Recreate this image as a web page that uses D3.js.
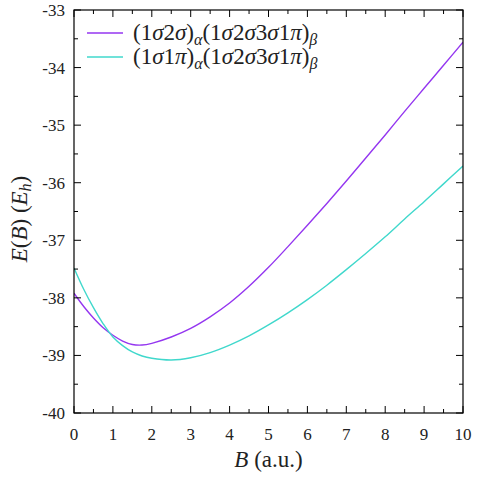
<!DOCTYPE html>
<html><head><meta charset="utf-8">
<script src="https://cdn.jsdelivr.net/npm/d3@7"></script>
<style>body{margin:0;background:#fff}</style>
</head><body>
<svg id="c" width="478" height="478"></svg>
<script>
const B = [0,0.25,0.5,0.75,1,1.25,1.5,1.75,2,2.5,3,3.5,4,4.5,5,5.5,6,6.5,7,7.5,8,8.5,9,9.5,10];
const E1 = [-37.92,-38.15,-38.35,-38.52,-38.65,-38.75,-38.81,-38.82,-38.79,-38.68,-38.53,-38.33,-38.09,-37.80,-37.47,-37.11,-36.74,-36.36,-35.97,-35.57,-35.17,-34.76,-34.36,-33.96,-33.56];
const E2 = [-37.48,-37.85,-38.17,-38.45,-38.68,-38.83,-38.94,-39.01,-39.05,-39.08,-39.04,-38.95,-38.82,-38.66,-38.47,-38.26,-38.03,-37.78,-37.51,-37.23,-36.94,-36.63,-36.33,-36.02,-35.71];
const xTicks = [0,1,2,3,4,5,6,7,8,9,10];
const yTicks = [-40,-39,-38,-37,-36,-35,-34,-33];
const colors = ["#9436f0","#40d8cc"];

const svg = d3.select("#c");
const L=74,R=463,T=10,Bt=413;
const x = d3.scaleLinear().domain([0,10]).range([L,R]);
const y = d3.scaleLinear().domain([-40,-33]).range([Bt,T]);
const F = "Liberation Serif, DejaVu Serif, serif";

const line = d3.line().x((d,i)=>x(B[i])).y(d=>y(d)).curve(d3.curveCatmullRom.alpha(0.5));
svg.append("clipPath").attr("id","cp").append("rect").attr("x",L).attr("y",T).attr("width",R-L).attr("height",Bt-T);
[E1,E2].forEach((s,k)=>{
  svg.append("path").attr("d",line(s)).attr("fill","none").attr("stroke",colors[k]).attr("stroke-width",1.4).attr("clip-path","url(#cp)");
});

const minorX = d3.range(0.5,10,1), minorY = d3.range(-39.5,-33,1);
const g = svg.append("g").attr("stroke","#000").attr("stroke-width",1);
xTicks.forEach(v=>{ g.append("line").attr("x1",x(v)).attr("x2",x(v)).attr("y1",Bt).attr("y2",Bt-7);
  g.append("line").attr("x1",x(v)).attr("x2",x(v)).attr("y1",T).attr("y2",T+7);});
minorX.forEach(v=>{ g.append("line").attr("x1",x(v)).attr("x2",x(v)).attr("y1",Bt).attr("y2",Bt-4);
  g.append("line").attr("x1",x(v)).attr("x2",x(v)).attr("y1",T).attr("y2",T+4);});
yTicks.forEach(v=>{ g.append("line").attr("y1",y(v)).attr("y2",y(v)).attr("x1",L).attr("x2",L+7);
  g.append("line").attr("y1",y(v)).attr("y2",y(v)).attr("x1",R).attr("x2",R-7);});
minorY.forEach(v=>{ g.append("line").attr("y1",y(v)).attr("y2",y(v)).attr("x1",L).attr("x2",L+4);
  g.append("line").attr("y1",y(v)).attr("y2",y(v)).attr("x1",R).attr("x2",R-4);});
svg.append("rect").attr("x",L).attr("y",T).attr("width",R-L).attr("height",Bt-T).attr("fill","none").attr("stroke","#000").attr("stroke-width",1.2);

xTicks.forEach(v=>svg.append("text").attr("x",x(v)).attr("y",Bt+27).attr("text-anchor","middle")
  .style("font-family",F).style("font-size","17px").attr("fill","#222").text(v));
yTicks.forEach(v=>svg.append("text").attr("x",L-9).attr("y",y(v)+6).attr("text-anchor","end")
  .style("font-family",F).style("font-size","17px").attr("fill","#222").text(v));

const xt = svg.append("text").attr("x",(L+R)/2).attr("y",467).attr("text-anchor","middle")
  .style("font-family",F).style("font-size","23px").attr("fill","#222");
xt.append("tspan").style("font-style","italic").text("B");
xt.append("tspan").text(" (a.u.)");
const yt = svg.append("text").attr("transform",`translate(27,219) rotate(-90)`).attr("text-anchor","middle")
  .style("font-family",F).style("font-size","23px").attr("fill","#222");
yt.append("tspan").style("font-style","italic").text("E");
yt.append("tspan").text("(");
yt.append("tspan").style("font-style","italic").text("B");
yt.append("tspan").text(") (");
yt.append("tspan").style("font-style","italic").text("E");
yt.append("tspan").style("font-style","italic").style("font-size","16px").attr("dy",4).text("h");
yt.append("tspan").attr("dy",-4).text(")");

const legParts = [
  [["(1",0],["σ",1],["2",0],["σ",1],[")",0],["α",2],["(1",0],["σ",1],["2",0],["σ",1],["3",0],["σ",1],["1",0],["π",1],[")",0],["β",2]],
  [["(1",0],["σ",1],["1",0],["π",1],[")",0],["α",2],["(1",0],["σ",1],["2",0],["σ",1],["3",0],["σ",1],["1",0],["π",1],[")",0],["β",2]]
];
legParts.forEach((parts,k)=>{
  const ly = 33 + k*24;
  svg.append("line").attr("x1",87).attr("x2",123).attr("y1",ly).attr("y2",ly).attr("stroke",colors[k]).attr("stroke-width",1.4);
  const t = svg.append("text").attr("x",133).attr("y",ly+7).style("font-family",F).style("font-size","23px").attr("fill","#222");
  let sub=false;
  parts.forEach(([s,m])=>{
    const ts = t.append("tspan").text(s);
    if(m===1) ts.style("font-style","italic");
    if(m===2){ ts.style("font-style","italic").style("font-size","16px").attr("dy",sub?0:5); sub=true; }
    else if(sub){ ts.attr("dy",-5); sub=false; }
  });
});
</script>
</body></html>
